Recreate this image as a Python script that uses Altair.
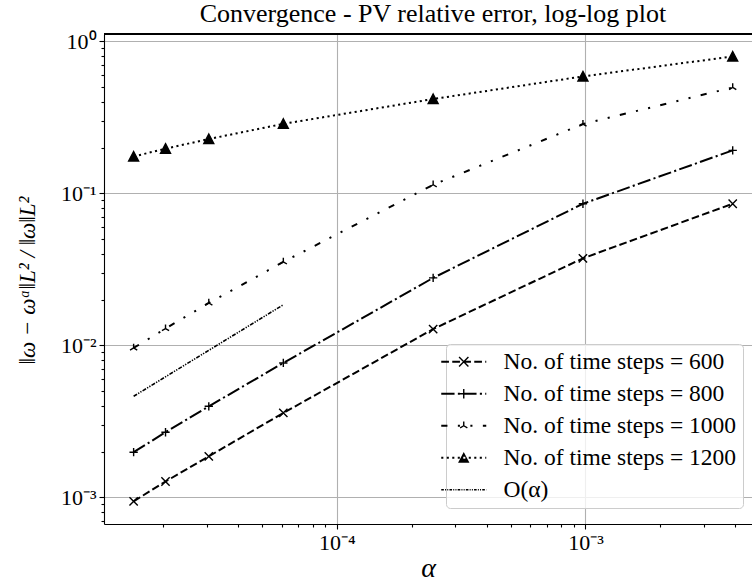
import math
import altair as alt
import pandas as pd

# ---------------- data ----------------
alpha = [1.526e-5, 2.05e-5, 3.06e-5, 6.10e-5, 2.441e-4, 9.766e-4, 3.906e-3]
err_600 = [9.41e-4, 1.27e-3, 1.86e-3, 3.59e-3, 1.28e-2, 3.74e-2, 8.55e-2]
err_800 = [1.98e-3, 2.68e-3, 3.97e-3, 7.66e-3, 2.78e-2, 8.55e-2, 0.192]
err_1000 = [9.61e-3, 1.29e-2, 1.90e-2, 3.54e-2, 0.114, 0.286, 0.498]
err_1200 = [0.175, 0.197, 0.228, 0.287, 0.418, 0.589, 0.797]
series = ["No. of time steps = 600", "No. of time steps = 800",
          "No. of time steps = 1000", "No. of time steps = 1200"]
ref_label = "O(α)"
ref_alpha = [1.526e-5, 6.10e-5]
ref_err = [4.62e-3, 1.85e-2]

x_domain = [1.16e-5, 4.67e-3]
y_domain = [6.67e-4, 1.12]
x_ticks = [2e-5, 3e-5, 4e-5, 5e-5, 6e-5, 7e-5, 8e-5, 9e-5, 1e-4,
           2e-4, 3e-4, 4e-4, 5e-4, 6e-4, 7e-4, 8e-4, 9e-4, 1e-3,
           2e-3, 3e-3, 4e-3]
y_ticks = [7e-4, 8e-4, 9e-4, 1e-3,
           2e-3, 3e-3, 4e-3, 5e-3, 6e-3, 7e-3, 8e-3, 9e-3, 1e-2,
           2e-2, 3e-2, 4e-2, 5e-2, 6e-2, 7e-2, 8e-2, 9e-2, 1e-1,
           0.2, 0.3, 0.4, 0.5, 0.6, 0.7, 0.8, 0.9, 1.0]
title_text = "Convergence - PV relative error, log-log plot"
x_title = "α"
y_title = "‖ω − ωᵅ‖L² / ‖ω‖L²"

# ---------------- tables ----------------
errs = [err_600, err_800, err_1000, err_1200]
main_rows = []
for name, ys in zip(series, errs):
    for a, e in zip(alpha, ys):
        main_rows.append({"series": name, "alpha": a, "err": e})
main_df = pd.DataFrame(main_rows)
ref_df = pd.DataFrame({"series": ref_label, "alpha": ref_alpha, "err": ref_err})
all_df = pd.concat([main_df, ref_df], ignore_index=True)
all_names = series + [ref_label]

# ---------------- styles ----------------
FONT = "Liberation Serif"
dashes = [[7.7, 3.3], [13.3, 3.3, 2.1, 3.3], [6.2, 10.4, 2.1, 10.4, 2.1, 10.4], [2.1, 3.4]]
ref_dash = [4, 1.3, 1.3, 1.3, 1.3, 1.3]

marker_paths = [
    "M-1,-1L1,1M-1,1L1,-1",
    "M-1,0L1,0M0,-1L0,1",
    "M0,0L0,-1M0,0L-0.866,0.5M0,0L0.866,0.5",
    "M0,-1.2L1.2,1.1L-1.2,1.1Z",
]

# legend glyphs drawn as filled shapes (unit = 10 px, symbol size 400)
U = 10.0
HALF = 22.5 / U       # half length of the legend line
MK = 4.17 / U         # marker half size


def poly(pts):
    return "M" + "L".join(f"{x:.3f},{y:.3f}" for x, y in pts) + "Z"


def seg(x0, y0, x1, y1, hw, ext=0.0):
    dx, dy = x1 - x0, y1 - y0
    n = math.hypot(dx, dy)
    ux, uy = dx / n, dy / n
    x0, y0, x1, y1 = x0 - ux * ext, y0 - uy * ext, x1 + ux * ext, y1 + uy * ext
    nx, ny = -uy * hw, ux * hw
    return poly([(x0 + nx, y0 + ny), (x1 + nx, y1 + ny), (x1 - nx, y1 - ny), (x0 - nx, y0 - ny)])


def dash_glyph(pattern, width_px):
    hw = width_px / 2 / U
    out = []
    pos, total, i = 0.0, 2 * HALF, 0
    while pos < total - 1e-9:
        L = pattern[i % len(pattern)] / U
        end = min(pos + L, total)
        if i % 2 == 0:
            out.append(seg(pos - HALF, 0, end - HALF, 0, hw))
        pos = end
        i += 1
    return "".join(out)


mw = 0.7 / U
c = 0.866
marker_glyphs = [
    seg(-MK, -MK, MK, MK, mw, mw) + seg(-MK, MK, MK, -MK, mw, mw),
    seg(-MK, 0, MK, 0, mw, mw) + seg(0, -MK, 0, MK, mw, mw),
    seg(0, 0, 0, -MK, mw) + seg(0, 0, -c * MK, 0.5 * MK, mw) + seg(0, 0, c * MK, 0.5 * MK, mw),
    poly([(0, -1.2 * MK - 0.07), (1.2 * MK + 0.07, 1.1 * MK + 0.05), (-1.2 * MK - 0.07, 1.1 * MK + 0.05)]),
]
legend_paths = [dash_glyph(d, 1.8) + g for d, g in zip(dashes, marker_glyphs)]
legend_paths.append(dash_glyph([2.6, 1.2, 1.0, 1.2, 1.0, 1.2], 1.3))

major = "abs(log(datum.value)/LN10 - round(log(datum.value)/LN10)) < 0.001"
label_expr = (major + " ? '10' + (round(log(datum.value)/LN10) < 0 ? '⁻' : '') + "
              "['⁰','¹','²','³','⁴','⁵'][abs(round(log(datum.value)/LN10))] : ''")

x_axis = alt.Axis(
    values=x_ticks, labelExpr=label_expr, labelOverlap=False, labelFlush=False,
    tickSize={"condition": {"test": major, "value": 5}, "value": 3},
    gridOpacity={"condition": {"test": major, "value": 1}, "value": 0},
    grid=True, gridColor="#b0b0b0", gridWidth=1.1,
    tickColor="black", tickWidth=1.1, domainColor="black", domainWidth=1.1,
    labelFont=FONT, labelFontSize=22, labelColor="black", labelPadding=3,
    title=x_title, titleFont=FONT, titleFontSize=28, titleFontStyle="italic",
    titleFontWeight="normal", titleColor="black", titleY=44, titleBaseline="middle",
)
y_axis = alt.Axis(
    values=y_ticks, labelExpr=label_expr, labelOverlap=False, labelFlush=False,
    tickSize={"condition": {"test": major, "value": 5}, "value": 3},
    gridOpacity={"condition": {"test": major, "value": 1}, "value": 0},
    grid=True, gridColor="#b0b0b0", gridWidth=1.1,
    tickColor="black", tickWidth=1.1, domainColor="black", domainWidth=1.1,
    labelFont=FONT, labelFontSize=22, labelColor="black", labelPadding=3,
    title=y_title, titleFont=FONT, titleFontSize=23, titleFontStyle="italic",
    titleFontWeight="normal", titleColor="black", titleX=-77, titleY=246,
    titleAngle=270, titleAlign="center", titleBaseline="middle",
)

X = alt.X("alpha:Q", scale=alt.Scale(type="log", domain=x_domain), axis=x_axis)
Y = alt.Y("err:Q", scale=alt.Scale(type="log", domain=y_domain), axis=y_axis)

lines = alt.Chart(main_df).mark_line(color="black", strokeWidth=2).encode(
    x=X, y=Y,
    strokeDash=alt.StrokeDash("series:N", scale=alt.Scale(domain=series, range=dashes), legend=None),
    detail="series:N",
)
ref_line = alt.Chart(ref_df).mark_line(color="black", strokeWidth=1.6, strokeDash=ref_dash).encode(
    x=X, y=Y
)
points = alt.Chart(main_df).mark_point(
    filled=True, fill="black", stroke="black", strokeWidth=1.4, size=69, opacity=1
).encode(
    x=X, y=Y,
    shape=alt.Shape("series:N", scale=alt.Scale(domain=series, range=marker_paths), legend=None),
)
legend_layer = alt.Chart(all_df).mark_point(
    filled=True, fill="black", color="black", size=400, opacity=0
).encode(
    x=X, y=Y,
    shape=alt.Shape(
        "series:N",
        scale=alt.Scale(domain=all_names, range=legend_paths),
        legend=alt.Legend(
            title=None, orient="none", legendX=342, legendY=310,
            fillColor="rgba(255,255,255,0.8)", strokeColor="#cccccc", cornerRadius=4,
            padding=6, rowPadding=7, labelOffset=28, labelFont=FONT, labelFontSize=23.5,
            labelColor="black", labelLimit=0, symbolSize=400, symbolStrokeWidth=0,
            symbolFillColor="black", symbolOpacity=1,
        ),
    ),
)
top_border = alt.Chart(main_df).mark_rule(color="black", strokeWidth=1.1).encode(y=alt.value(0))

chart = alt.layer(lines, ref_line, points, legend_layer, top_border).resolve_scale(
    shape="independent"
).properties(
    width=648, height=490,
    autosize=alt.AutoSizeParams(type="none"),
    padding={"left": 104, "top": 34, "right": 0, "bottom": 60},
    title=alt.TitleParams(title_text, font=FONT, fontSize=26, fontWeight="normal",
                          color="black", anchor="middle", offset=3, dx=5),
    background="white",
).configure_view(stroke=None)

chart.save("out.html", embed_options={"renderer": "svg", "actions": False})
